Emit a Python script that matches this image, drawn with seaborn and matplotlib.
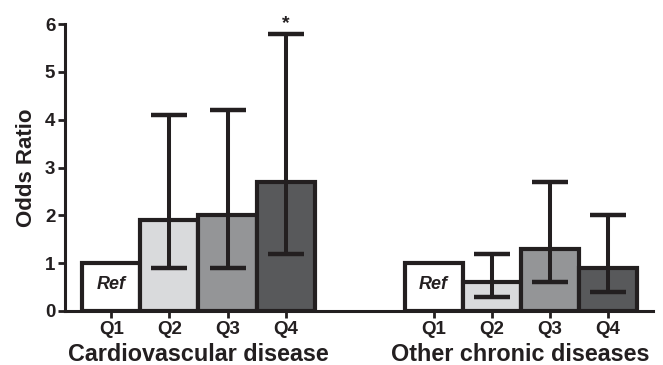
import matplotlib
matplotlib.use("Agg")
import matplotlib.pyplot as plt
import seaborn as sns
import pandas as pd

# odds ratios by quartile, two outcome groups
quartiles = ["Q1", "Q2", "Q3", "Q4"]
groups = ["Cardiovascular disease", "Other chronic diseases"]
cvd_or = [1.0, 1.9, 2.0, 2.7]
cvd_low = [1.0, 0.9, 0.9, 1.2]
cvd_high = [1.0, 4.1, 4.2, 5.8]
other_or = [1.0, 0.6, 1.3, 0.9]
other_low = [1.0, 0.3, 0.6, 0.4]
other_high = [1.0, 1.2, 2.7, 2.0]

colors = ["#ffffff", "#d9dadc", "#939598", "#58595b"]
edge = "#231f20"

# x positions: group offset leaves a gap between the two panels
offsets = [0.0, 5.55]
rows = []
for g, off, ors, lo, hi in zip(groups, offsets, [cvd_or, other_or],
                               [cvd_low, other_low], [cvd_high, other_high]):
    for i, q in enumerate(quartiles):
        rows.append({"group": g, "quartile": q, "x": off + i,
                     "OR": ors[i], "low": lo[i], "high": hi[i]})
df = pd.DataFrame(rows)

sns.set_style("ticks")
plt.rcParams["font.family"] = ["Liberation Sans", "DejaVu Sans"]
plt.rcParams["font.weight"] = "bold"

fig = plt.figure(figsize=(6.63, 3.65), dpi=100)
ax = fig.add_axes([0.098, 0.148, 0.887, 0.786])

sns.barplot(data=df, x="x", y="OR", hue="quartile", palette=colors,
            native_scale=True, dodge=False, width=1.0, errorbar=None,
            edgecolor=edge, linewidth=3, legend=False, ax=ax)

# confidence intervals (skip the reference bars)
ci = df[df["quartile"] != "Q1"]
ax.errorbar(ci["x"], ci["OR"],
            yerr=[ci["OR"] - ci["low"], ci["high"] - ci["OR"]],
            fmt="none", ecolor=edge, elinewidth=2.9, capsize=13, capthick=3.2,
            zorder=5)

# Ref labels and significance star
for off in offsets:
    ax.text(off, 0.55, "Ref", ha="center", va="center", fontsize=13,
            fontstyle="italic", fontweight="bold", color=edge)
q4 = df[(df["group"] == groups[0]) & (df["quartile"] == "Q4")].iloc[0]
ax.text(q4["x"], q4["high"] + 0.04, "*", ha="center", va="bottom",
        fontsize=14, fontweight="bold", color=edge)

ax.set_xlim(-0.8, 9.33)
ax.set_ylim(0, 6)
ax.set_yticks(range(7))
ax.set_xticks(df["x"])
ax.set_xticklabels(df["quartile"])
ax.tick_params(axis="both", labelsize=13.5, width=2, length=5, color=edge,
               labelcolor=edge, pad=2)
ax.set_xlabel("")
ax.set_ylabel("Odds Ratio", fontsize=16, fontweight="bold", color=edge,
              labelpad=6)
for s in ["left", "bottom"]:
    ax.spines[s].set_linewidth(2.2)
    ax.spines[s].set_color(edge)
sns.despine(ax=ax)

# group labels below the quartile ticks
for g, off in zip(groups, offsets):
    ax.text(off + 1.5, -0.11, g, transform=ax.get_xaxis_transform(),
            ha="center", va="top", fontsize=16.8, fontweight="bold", color=edge)

fig.savefig("out.png", dpi=100)
